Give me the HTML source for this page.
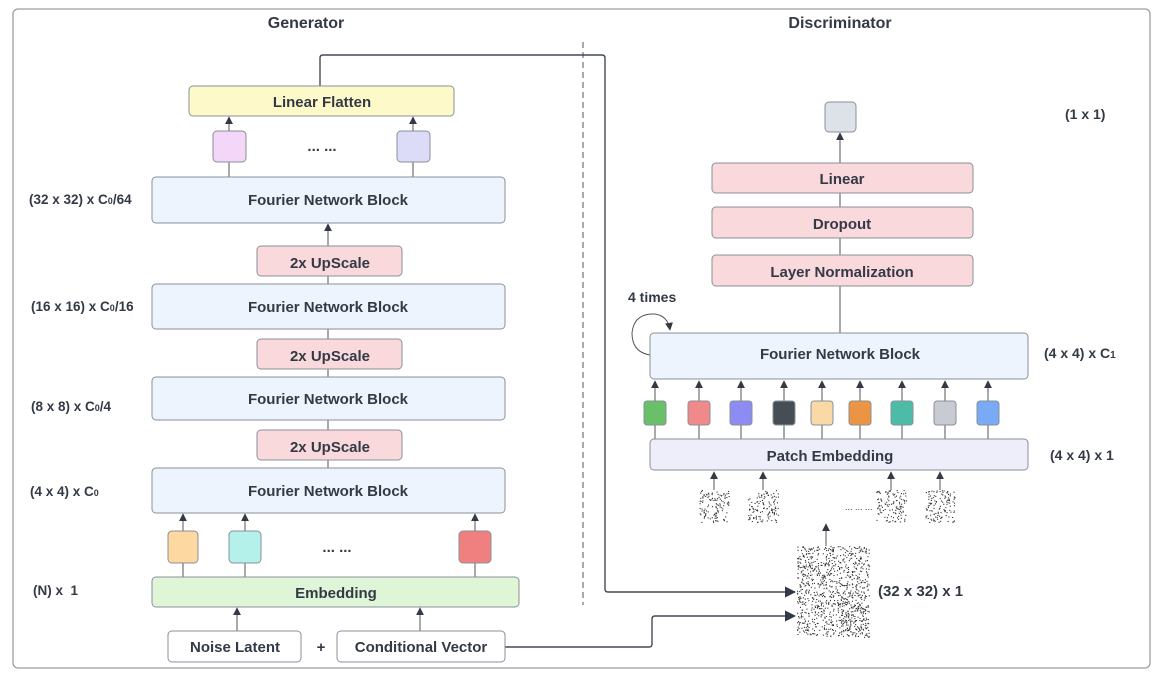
<!DOCTYPE html>
<html><head><meta charset="utf-8"><style>
html,body{margin:0;padding:0;background:#fff;}
svg{display:block;font-family:"Liberation Sans",sans-serif;font-weight:bold;}
text{fill:#333a45;}
</style></head><body>
<svg id="s" width="1163" height="680" viewBox="0 0 1163 680" xmlns="http://www.w3.org/2000/svg">
<defs>
<marker id="a" viewBox="0 0 10 10" refX="9" refY="5" markerWidth="8" markerHeight="8" orient="auto-start-reverse"><path d="M0,0 L10,5 L0,10 z" fill="#333a45"/></marker>
</defs>
<rect x="13" y="9" width="1137" height="659" rx="5" fill="none" stroke="#9a9ea5" stroke-width="1.3"/>
<text x="306" y="28" font-size="16" text-anchor="middle">Generator</text>
<text x="840" y="28" font-size="16" text-anchor="middle">Discriminator</text>
<line x1="583" y1="42" x2="583" y2="605" stroke="#555" stroke-dasharray="6,4" stroke-width="1"/>

<g stroke="#444a55" stroke-width="1.4" fill="none">
<path d="M320 86 V58 Q320 55 323 55 H602 Q605 55 605 58 V589 Q605 592 608 592 H795" marker-end="url(#a)"/>
<path d="M505 647 H649 Q652 647 652 644 V619 Q652 616 655 616 H795" marker-end="url(#a)"/>
</g>
<g stroke="#555" stroke-width="1" fill="none">
<line x1="229" y1="131" x2="229" y2="117" marker-end="url(#a)"/>
<line x1="413" y1="131" x2="413" y2="117" marker-end="url(#a)"/>
<line x1="229" y1="177" x2="229" y2="162"/><line x1="413" y1="177" x2="413" y2="162"/>
<line x1="328" y1="246" x2="328" y2="224" marker-end="url(#a)"/>
<line x1="328" y1="284" x2="328" y2="276"/>
<line x1="328" y1="339" x2="328" y2="329"/>
<line x1="328" y1="377" x2="328" y2="369"/>
<line x1="328" y1="430" x2="328" y2="420"/>
<line x1="328" y1="468" x2="328" y2="460"/>
<line x1="183" y1="531" x2="183" y2="514" marker-end="url(#a)"/>
<line x1="245" y1="531" x2="245" y2="514" marker-end="url(#a)"/>
<line x1="475" y1="531" x2="475" y2="514" marker-end="url(#a)"/>
<line x1="183" y1="577" x2="183" y2="563"/><line x1="245" y1="577" x2="245" y2="563"/><line x1="475" y1="577" x2="475" y2="563"/>
<line x1="237" y1="631" x2="237" y2="608" marker-end="url(#a)"/>
<line x1="420" y1="631" x2="420" y2="608" marker-end="url(#a)"/>
<line x1="840" y1="163" x2="840" y2="133" marker-end="url(#a)"/>
<line x1="840" y1="207" x2="840" y2="193"/>
<line x1="840" y1="255" x2="840" y2="238"/>
<line x1="840" y1="333" x2="840" y2="286"/>
<path d="M650 355 Q632 352 632 333 Q634 313 655 314 Q668 316 670 330" marker-end="url(#a)"/>
<line x1="826" y1="546" x2="826" y2="524" marker-end="url(#a)"/>
</g>
<g id="cb"></g>

<g stroke="#8a8f98" stroke-width="1">
<rect x="189" y="86" width="265" height="30" rx="4" fill="#fdf9c8"/>
<rect x="213" y="131" width="33" height="31" rx="4" fill="#f4d6f8"/>
<rect x="397" y="131" width="33" height="31" rx="4" fill="#dcdcf8"/>
<rect x="152" y="177" width="353" height="46" rx="4" fill="#edf4fd"/>
<rect x="257" y="246" width="145" height="30" rx="4" fill="#f9d9dc"/>
<rect x="152" y="284" width="353" height="45" rx="4" fill="#edf4fd"/>
<rect x="257" y="339" width="145" height="30" rx="4" fill="#f9d9dc"/>
<rect x="152" y="377" width="353" height="43" rx="4" fill="#edf4fd"/>
<rect x="257" y="430" width="145" height="30" rx="4" fill="#f9d9dc"/>
<rect x="152" y="468" width="353" height="45" rx="4" fill="#edf4fd"/>
<rect x="168" y="531" width="30" height="32" rx="4" fill="#fdd8a0"/>
<rect x="229" y="531" width="32" height="32" rx="4" fill="#b4f1ea"/>
<rect x="459" y="531" width="32" height="32" rx="4" fill="#f08080"/>
<rect x="152" y="577" width="367" height="30" rx="4" fill="#dff5d8"/>
<rect x="168" y="631" width="133" height="31" rx="4" fill="#fff"/>
<rect x="337" y="631" width="168" height="31" rx="4" fill="#fff"/>
<rect x="825" y="102" width="31" height="30" rx="4" fill="#dde1e8"/>
<rect x="712" y="163" width="261" height="30" rx="4" fill="#f9d9dc"/>
<rect x="712" y="207" width="261" height="31" rx="4" fill="#f9d9dc"/>
<rect x="712" y="255" width="261" height="31" rx="4" fill="#f9d9dc"/>
<rect x="650" y="333" width="378" height="46" rx="4" fill="#edf4fd"/>
<rect x="650" y="439" width="378" height="31" rx="4" fill="#eeeefa"/>
</g>
<g id="noise"></g>

<g font-size="15" text-anchor="middle">
<text x="322" y="107">Linear Flatten</text>
<text x="328" y="205">Fourier Network Block</text>
<text x="328" y="312">Fourier Network Block</text>
<text x="328" y="404">Fourier Network Block</text>
<text x="328" y="496">Fourier Network Block</text>
<text x="330" y="268">2x UpScale</text>
<text x="330" y="361">2x UpScale</text>
<text x="330" y="452">2x UpScale</text>
<text x="336" y="598">Embedding</text>
<text x="235" y="652">Noise Latent</text>
<text x="421" y="652">Conditional Vector</text>
<text x="321" y="652">+</text>
<text x="842" y="184">Linear</text>
<text x="842" y="229">Dropout</text>
<text x="842" y="277">Layer Normalization</text>
<text x="840" y="359">Fourier Network Block</text>
<text x="830" y="461">Patch Embedding</text>
<text x="322" y="151">... ...</text>
<text x="337" y="552">... ...</text>
</g>
<g font-size="13.5">
<text x="29" y="204">(32 x 32) x C<tspan font-size="9">0</tspan>/64</text>
<text x="31" y="311">(16 x 16) x C<tspan font-size="9">0</tspan>/16</text>
<text x="31" y="411">(8 x 8) x C<tspan font-size="9">0</tspan>/4</text>
<text x="30" y="496">(4 x 4) x C<tspan font-size="9">0</tspan></text>
<text x="33" y="595">(N) x &#160;1</text>
<text x="1065" y="119" font-size="14">(1 x 1)</text>
<text x="628" y="302" font-size="14">4 times</text>
<text x="1044" y="358" font-size="14">(4 x 4) x C<tspan font-size="10">1</tspan></text>
<text x="1050" y="460" font-size="14">(4 x 4) x 1</text>
<text x="878" y="596" font-size="15">(32 x 32) x 1</text>
<text x="845" y="510" font-size="9" font-weight="normal">... ... ...</text>
</g>
</svg>
<script>
(function(){
var cb=document.getElementById("cb");
var cols=["#6abf69","#f08a8a","#8c8cf2","#474d55","#f9d9a6","#eb9443","#4cbca6","#c8ccd2","#78aaf5"];
var xs=[655,699,741,784,822,860,902,945,988];
var h="";
for(var i=0;i<9;i++){
 h+='<line x1="'+xs[i]+'" y1="401" x2="'+xs[i]+'" y2="381" stroke="#555" marker-end="url(#a)"/>';
 h+='<line x1="'+xs[i]+'" y1="425" x2="'+xs[i]+'" y2="439" stroke="#555"/>';
 h+='<rect x="'+(xs[i]-11)+'" y="401" width="22" height="24" rx="3" fill="'+cols[i]+'" stroke="#8a8f98"/>';
}
var px=[714,763,891,940];
for(var j=0;j<4;j++){h+='<line x1="'+px[j]+'" y1="490" x2="'+px[j]+'" y2="472" stroke="#555" marker-end="url(#a)"/>';}
cb.innerHTML=h;
var seed=7;function r(){seed=(seed*16807)%2147483647;return seed/2147483647;}
var n="";
function noise(x,y,w,hh,c){for(var k=0;k<c;k++){n+='<rect x="'+(x+r()*w).toFixed(1)+'" y="'+(y+r()*hh).toFixed(1)+'" width="1.1" height="1.1" fill="#333"/>';}}
noise(797,546,72,91,1000);
for(var j=0;j<4;j++)noise(px[j]-15,490,30,32,120);
document.getElementById("noise").innerHTML=n;
})();
</script>
</body></html>
